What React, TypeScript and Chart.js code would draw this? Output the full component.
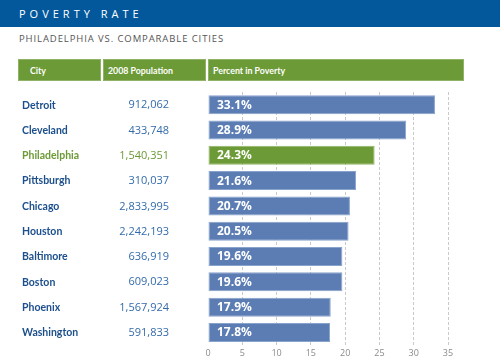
import React, { useEffect, useRef } from "react";
import { Chart, registerables } from "chart.js";

Chart.register(...registerables);

const cities = ["Detroit", "Cleveland", "Philadelphia", "Pittsburgh", "Chicago", "Houston", "Baltimore", "Boston", "Phoenix", "Washington"];
const populations = ["912,062", "433,748", "1,540,351", "310,037", "2,833,995", "2,242,193", "636,919", "609,023", "1,567,924", "591,833"];
const povertyRates = [33.1, 28.9, 24.3, 21.6, 20.7, 20.5, 19.6, 19.6, 17.9, 17.8];
const highlightCity = "Philadelphia";
const xTicks = [0, 5, 10, 15, 20, 25, 30, 35];

const BLUE = "#5b7db4";
const BLUE_BORDER = "#88a3cc";
const GREEN = "#6c9a36";
const GREEN_BORDER = "#92b566";
const NAME_BLUE = "#1c4f8c";
const POP_BLUE = "#336bab";
const FONT = "'Open Sans', 'DejaVu Sans', sans-serif";
const NAME_FONT = "Lato, 'Open Sans', sans-serif";

const rowLabelsPlugin = {
  id: "rowLabels",
  afterDatasetsDraw(chart: any) {
    const ctx = chart.ctx;
    const meta = chart.getDatasetMeta(0);
    ctx.save();
    ctx.textBaseline = "middle";
    meta.data.forEach((bar: any, i: number) => {
      const y = bar.y;
      const isHi = cities[i] === highlightCity;
      ctx.font = `bold 10.5px ${NAME_FONT}`;
      ctx.textAlign = "left";
      ctx.fillStyle = isHi ? GREEN : NAME_BLUE;
      ctx.fillText(cities[i], 22, y + 0.5);
      ctx.font = `11px ${FONT}`;
      ctx.textAlign = "right";
      ctx.fillStyle = isHi ? GREEN : POP_BLUE;
      ctx.fillText(populations[i], 169, y + 0.5);
      ctx.font = `bold 12px ${FONT}`;
      ctx.textAlign = "left";
      ctx.fillStyle = "#ffffff";
      ctx.fillText(povertyRates[i].toFixed(1) + "%", 217, y + 0.5);
    });
    ctx.restore();
  },
};

export default function App() {
  const canvasRef = useRef<HTMLCanvasElement | null>(null);

  useEffect(() => {
    if (!canvasRef.current) return;
    const chart = new Chart(canvasRef.current, {
      type: "bar",
      data: {
        labels: cities,
        datasets: [
          {
            data: povertyRates,
            backgroundColor: cities.map((c) => (c === highlightCity ? GREEN : BLUE)),
            borderColor: cities.map((c) => (c === highlightCity ? GREEN_BORDER : BLUE_BORDER)),
            borderWidth: 1,
            borderSkipped: false,
            categoryPercentage: 1,
            barPercentage: 0.75,
          },
        ],
      },
      options: {
        indexAxis: "y",
        animation: false,
        responsive: false,
        maintainAspectRatio: false,
        layout: { padding: { left: 208, right: 52, top: 92, bottom: 1.5 } },
        plugins: { legend: { display: false }, tooltip: { enabled: false } },
        scales: {
          x: {
            type: "linear",
            min: xTicks[0],
            max: xTicks[xTicks.length - 1],
            afterBuildTicks: (scale: any) => {
              scale.ticks = xTicks.map((v) => ({ value: v }));
            },
            ticks: {
              color: "#8a8a8a",
              font: { family: FONT, size: 9 },
              padding: 3.3,
            },
            grid: {
              color: (c: any) => (c.tick && c.tick.value === 0 ? "rgba(0,0,0,0)" : "#c9c9c9"),
              lineWidth: 1,
              drawTicks: false,
            },
            border: { display: false, dash: [3, 2] },
          },
          y: {
            display: false,
            grid: { display: false },
          },
        },
      },
      plugins: [rowLabelsPlugin],
    } as any);
    return () => chart.destroy();
  }, []);

  const headerCell = (left: number, width: number, text: string, textLeft: number) => (
    <div
      style={{
        position: "absolute",
        left,
        top: 59,
        width,
        height: 22,
        background: GREEN,
        boxSizing: "border-box",
        boxShadow: "inset 0 0 0 1px #8fb266",
      }}
    >
      <span
        style={{
          position: "absolute",
          left: textLeft,
          top: 0,
          color: "#fff",
          fontFamily: NAME_FONT,
          fontSize: 8.8,
          fontWeight: 700,
          lineHeight: "23px",
          whiteSpace: "nowrap",
        }}
      >
        {text}
      </span>
    </div>
  );

  return (
    <div
      style={{
        position: "absolute",
        left: 0,
        top: 0,
        width: 500,
        height: 364,
        background: "#fff",
        fontFamily: FONT,
        overflow: "hidden",
      }}
    >
      <div style={{ position: "absolute", left: 0, top: 0, width: 500, height: 27, background: "#03579b" }} />
      <div
        style={{
          position: "absolute",
          left: 19,
          top: 6,
          color: "#fff",
          fontSize: 11,
          letterSpacing: 4.0,
          lineHeight: "16px",
          whiteSpace: "nowrap",
        }}
      >
        POVERTY RATE
      </div>
      <div
        style={{
          position: "absolute",
          left: 19,
          top: 32,
          color: "#555",
          fontSize: 9.5,
          letterSpacing: 0.9,
          lineHeight: "14px",
          whiteSpace: "nowrap",
        }}
      >
        PHILADELPHIA VS. COMPARABLE CITIES
      </div>
      {headerCell(18, 83, "City", 12)}
      {headerCell(103, 103, "2008 Population", 5)}
      {headerCell(208, 256, "Percent in Poverty", 5)}
      <canvas ref={canvasRef} width={500} height={364} style={{ position: "absolute", left: 0, top: 0 }} />
    </div>
  );
}
